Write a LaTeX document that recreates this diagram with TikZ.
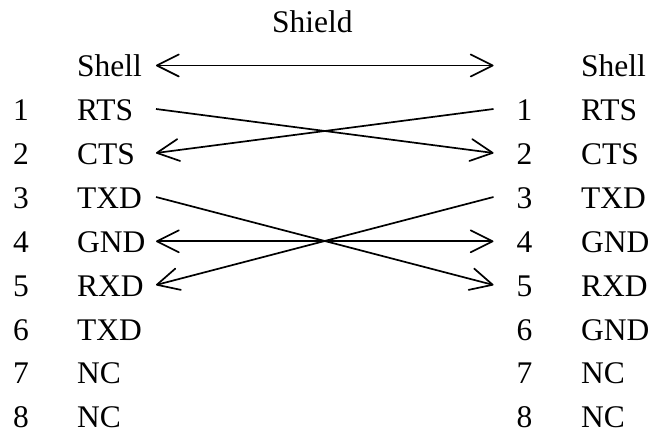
\documentclass[tikz,border=0pt]{standalone}
\usepackage{fontspec}
\setmainfont{Liberation Serif}
\usetikzlibrary{arrows.meta}
\tikzset{
  lbl/.style={inner sep=0pt,font=\fontsize{31.5pt}{34pt}\selectfont,anchor=base west},
  wire/.style={line width=1.7pt,black},
  barb/.tip={Straight Barb[length=22pt,width=22pt,line width=1.7pt,round=false]},
  tipped/.style={wire,{barb}-{barb}},
  onetip/.style={wire,-{barb}}
}
\begin{document}
\begin{tikzpicture}[x=1pt,y=-1pt]
\useasboundingbox (0,0) rectangle (652,438);
\node[lbl] (shield) at (272,33) {Shield};
\foreach \n/\t/\y in {a/Shell/77,b/RTS/120.7,c/CTS/164.5,d/TXD/208.3,e/GND/252.6,f/RXD/296,g/TXD/340,h/NC/383.8,i/NC/427.5}{
  \node[lbl] (l\n) at (77,\y) {\t};
}
\foreach \n/\t/\y in {a/Shell/77,b/RTS/120.7,c/CTS/164.5,d/TXD/208.3,e/GND/252.6,f/RXD/296,g/GND/340,h/NC/383.8,i/NC/427.5}{
  \node[lbl] (r\n) at (581,\y) {\t};
}
\foreach \n/\t/\y in {b/1/120.7,c/2/164.5,d/3/208.3,e/4/252.6,f/5/296,g/6/340,h/7/383.8,i/8/427.5}{
  \node[lbl] (nl\n) at (13,\y) {\t};
  \node[lbl] (nr\n) at (516.3,\y) {\t};
}
\coordinate (a1) at (156,65.5);\coordinate (a2) at (493.5,65.5);
\coordinate (b1) at (156,109);\coordinate (b2) at (493.5,153);
\coordinate (c1) at (156,153);\coordinate (c2) at (493.5,109);
\coordinate (d1) at (156,197);\coordinate (d2) at (493.5,285);
\coordinate (e1) at (156,241.3);\coordinate (e2) at (493.5,241.3);
\coordinate (f1) at (156,285);\coordinate (f2) at (493.5,197);
\draw[tipped] (a1) -- (a2);
\draw[onetip] (b1) -- (b2);
\draw[onetip] (c2) -- (c1);
\draw[onetip] (d1) -- (d2);
\draw[tipped] (e1) -- (e2);
\draw[onetip] (f2) -- (f1);
\end{tikzpicture}
\end{document}
